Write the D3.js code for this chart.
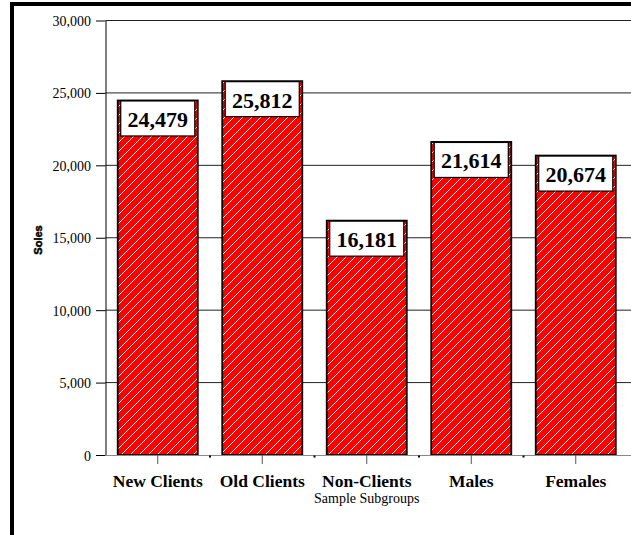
<!DOCTYPE html>
<html>
<head>
<meta charset="utf-8">
<script src="https://cdn.jsdelivr.net/npm/d3@7"></script>
<style>
  html, body { margin: 0; padding: 0; background: #fff; }
  svg { display: block; }
  text { font-family: "Liberation Serif", "Times New Roman", serif; }
</style>
</head>
<body>
<svg id="chart" width="631" height="535"></svg>
<script>
// Sales by sample subgroup
const categories = ["New Clients", "Old Clients", "Non-Clients", "Males", "Females"];
const soles = [24479, 25812, 16181, 21614, 20674];
const yTicks = [0, 5000, 10000, 15000, 20000, 25000, 30000];
const yTitle = "Soles";
const xTitle = "Sample Subgroups";

const W = 631, H = 535;
const plot = { left: 105.5, right: 628, top: 20.5, bottom: 455 };

const svg = d3.select("#chart");

// Outer frame
svg.append("rect")
  .attr("x", 12).attr("y", 4)
  .attr("width", 800).attr("height", 700)
  .attr("fill", "none").attr("stroke", "#000").attr("stroke-width", 4);

// Diagonal hatch for the bars
const defs = svg.append("defs");
const pat = defs.append("pattern")
  .attr("id", "hatch")
  .attr("patternUnits", "userSpaceOnUse")
  .attr("width", 9).attr("height", 9);
pat.append("rect").attr("width", 9).attr("height", 9).attr("fill", "#ff0000");
pat.append("path")
  .attr("d", "M-1,1 L1,-1 M0,9 L9,0 M8,10 L10,8")
  .attr("stroke", "#fff").attr("stroke-width", 1);

const x = d3.scaleBand()
  .domain(categories)
  .range([plot.left, plot.right])
  .paddingInner(0.234)
  .paddingOuter(0.117);

const y = d3.scaleLinear()
  .domain([0, 30000])
  .range([plot.bottom, plot.top]);

// Horizontal gridlines
svg.append("g")
  .selectAll("line")
  .data(yTicks.filter(d => d > 0))
  .join("line")
  .attr("x1", plot.left).attr("x2", W)
  .attr("y1", d => y(d)).attr("y2", d => y(d))
  .attr("stroke", "#222").attr("stroke-width", 1);

// Y axis
const yAxis = svg.append("g")
  .attr("transform", `translate(${plot.left},0)`)
  .call(d3.axisLeft(y)
    .tickValues(yTicks)
    .tickFormat(d3.format(","))
    .tickSize(9.5)
    .tickSizeOuter(0)
    .tickPadding(5));
yAxis.select(".domain").attr("stroke", "#000");
yAxis.selectAll(".tick line").attr("stroke", "#000");
yAxis.selectAll(".tick text")
  .attr("font-family", "Liberation Serif, Times New Roman, serif")
  .attr("font-size", 14)
  .attr("fill", "#000")
  .attr("dy", "0.36em");

// Bars
const bars = svg.append("g");
bars.selectAll("rect")
  .data(soles)
  .join("rect")
  .attr("x", (d, i) => x(categories[i]))
  .attr("y", d => y(d))
  .attr("width", x.bandwidth())
  .attr("height", d => y(0) - y(d))
  .attr("fill", "url(#hatch)")
  .attr("stroke", "#000")
  .attr("stroke-width", 1.8);

// X axis
const xAxis = svg.append("g")
  .attr("transform", `translate(0,${plot.bottom})`)
  .call(d3.axisBottom(x).tickSize(9).tickSizeOuter(0).tickPadding(11));
xAxis.select(".domain").attr("d", `M${plot.left},0.5H${W}`).attr("stroke", "#888");
xAxis.selectAll(".tick line").attr("stroke", "#555");
xAxis.selectAll(".tick text")
  .attr("font-family", "Liberation Serif, Times New Roman, serif")
  .attr("font-size", 17.5)
  .attr("font-weight", "bold")
  .attr("fill", "#000");

// Small marks at band boundaries
svg.append("g")
  .selectAll("rect")
  .data(categories.slice(1))
  .join("rect")
  .attr("x", d => x(d) - x.step() * x.paddingInner() / 2 - 1)
  .attr("y", plot.bottom + 0.5)
  .attr("width", 2).attr("height", 2)
  .attr("fill", "#000");

// Value boxes at the top of each bar
const labels = svg.append("g");
const lg = labels.selectAll("g")
  .data(soles)
  .join("g")
  .attr("transform", (d, i) => `translate(${x(categories[i]) + 3},${y(d) + 0.5})`);
lg.append("rect")
  .attr("width", x.bandwidth() - 6)
  .attr("height", 35)
  .attr("fill", "#fff")
  .attr("stroke", "#000")
  .attr("stroke-width", 1.2);
lg.append("text")
  .attr("x", (x.bandwidth() - 6) / 2)
  .attr("y", 26)
  .attr("text-anchor", "middle")
  .attr("font-size", 22)
  .attr("font-weight", "bold")
  .attr("fill", "#000")
  .text(d => d3.format(",")(d));

// Axis titles
svg.append("text")
  .attr("x", (plot.left + plot.right) / 2)
  .attr("y", 503)
  .attr("text-anchor", "middle")
  .attr("font-size", 14)
  .attr("fill", "#000")
  .text(xTitle);

svg.append("text")
  .attr("transform", `translate(42,240) rotate(-90)`)
  .attr("text-anchor", "middle")
  .style("font-family", "'Liberation Sans', Arial, sans-serif")
  .attr("font-size", 11)
  .attr("font-weight", "bold")
  .attr("fill", "#000")
  .attr("stroke", "#000")
  .attr("stroke-width", 0.5)
  .text(yTitle);
</script>
</body>
</html>
